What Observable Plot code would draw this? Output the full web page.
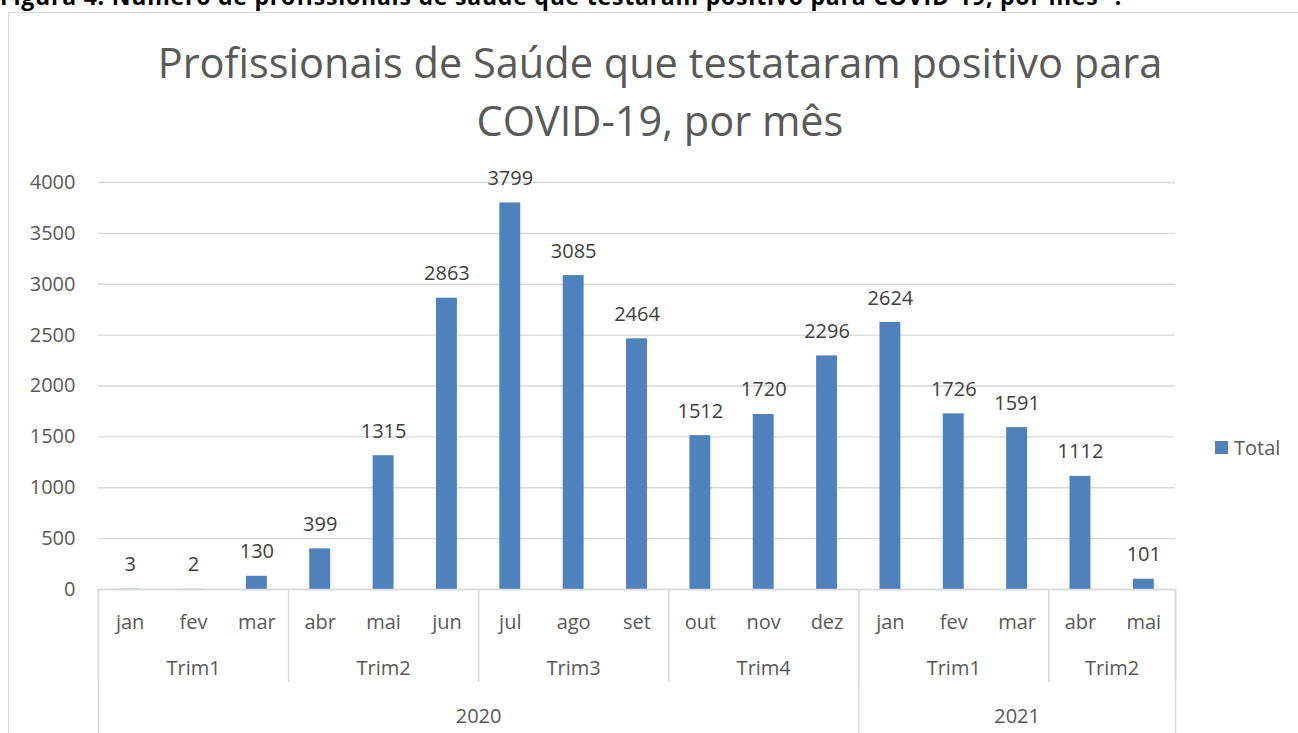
<!DOCTYPE html>
<html>
<head>
<meta charset="utf-8">
<script src="https://cdn.jsdelivr.net/npm/d3@7"></script>
<script src="https://cdn.jsdelivr.net/npm/@observablehq/plot@0.6"></script>
<style>
  html, body { margin: 0; padding: 0; background: #fff; }
  #wrap { position: relative; width: 1298px; height: 733px; overflow: hidden; font-family: "Open Sans", sans-serif; }
  #heading { position: absolute; left: 0; top: -18px; font-weight: bold; font-size: 23px; color: #000; white-space: nowrap; line-height: 28px; letter-spacing: 0.8px; }
  #frame { position: absolute; left: 8px; top: 12px; width: 1400px; height: 800px; border: 1px solid #d9d9d9; box-sizing: border-box; }
  #title { position: absolute; left: 0; width: 1320px; top: 33px; text-align: center; font-size: 41.5px; line-height: 58px; color: #595959; }
  #chart { position: absolute; left: 0; top: 0; }
  #legend { position: absolute; left: 1215px; top: 434px; font-size: 20px; color: #595959; display: flex; align-items: center; }
  #legend span.sw { display: inline-block; width: 13px; height: 13px; background: #4F81BD; margin-right: 6px; }
</style>
</head>
<body>
<div id="wrap">
  <div id="heading">Figura 4. Número de profissionais de saúde que testaram positivo para COVID-19, por mês ¹.</div>
  <div id="frame"></div>
  <div id="title">Profissionais de Saúde que testataram positivo para<br>COVID-19, por mês</div>
  <div id="chart"></div>
  <div id="legend"><span class="sw"></span>Total</div>
</div>
<script>
const months   = ["jan","fev","mar","abr","mai","jun","jul","ago","set","out","nov","dez","jan","fev","mar","abr","mai"];
const quarters = ["Trim1","Trim1","Trim1","Trim2","Trim2","Trim2","Trim3","Trim3","Trim3","Trim4","Trim4","Trim4","Trim1","Trim1","Trim1","Trim2","Trim2"];
const years    = ["2020","2020","2020","2020","2020","2020","2020","2020","2020","2020","2020","2020","2021","2021","2021","2021","2021"];
const totals   = [3, 2, 130, 399, 1315, 2863, 3799, 3085, 2464, 1512, 1720, 2296, 2624, 1726, 1591, 1112, 101];
const yTicks   = [0, 500, 1000, 1500, 2000, 2500, 3000, 3500, 4000];

const n = months.length;
const data = months.map((m, i) => ({i, month: m, quarter: quarters[i], year: years[i], value: totals[i]}));

// group runs of identical keys
function groups(keyFn, labelFn) {
  const out = [];
  data.forEach((d, i) => {
    const k = keyFn(d);
    if (out.length && out[out.length - 1].key === k) out[out.length - 1].end = i + 1;
    else out.push({key: k, label: labelFn(d), start: i, end: i + 1});
  });
  return out;
}
const qGroups = groups(d => d.year + "|" + d.quarter, d => d.quarter);
const yGroups = groups(d => d.year, d => d.year);

const qBounds = Array.from(new Set(qGroups.flatMap(g => [g.start, g.end])));
const yBounds = Array.from(new Set(yGroups.flatMap(g => [g.start, g.end])));
const qCenters = qGroups.map(g => (g.start + g.end) / 2);
const yCenters = yGroups.map(g => (g.start + g.end) / 2);
const mCenters = data.map(d => d.i + 0.5);

const grid = "#d9d9d9";
const txt = "#595959";
const fs = 20;

const chart = Plot.plot({
  width: 1298,
  height: 733,
  marginLeft: 98,
  marginRight: 123,
  marginTop: 182,
  marginBottom: 144,
  x: {type: "linear", domain: [0, n], label: null},
  y: {domain: [0, 4000], label: null},
  style: {fontFamily: "Open Sans, sans-serif", fontSize: fs + "px", color: txt, background: "transparent", overflow: "visible"},
  marks: [
    Plot.gridY(yTicks, {stroke: grid, strokeOpacity: 1, strokeWidth: 1.3}),
    Plot.axisY(yTicks, {tickSize: 0, tickPadding: 23, fill: txt, fontSize: fs, tickFormat: d => String(d)}),
    Plot.rectY(data, {x1: d => d.i + 0.335, x2: d => d.i + 0.665, y: "value", fill: "#4F81BD"}),
    Plot.text(data, {x: d => d.i + 0.5, y: "value", text: d => String(d.value), lineAnchor: "bottom", dy: -18, fill: "#404040", fontSize: fs}),
    Plot.ruleY([0], {stroke: grid, strokeWidth: 1.5}),
    Plot.axisX(qBounds, {tickSize: 93, tickFormat: () => "", stroke: grid, strokeWidth: 1.5, strokeOpacity: 1}),
    Plot.axisX(yBounds, {tickSize: 144, tickFormat: () => "", stroke: grid, strokeWidth: 1.5, strokeOpacity: 1}),
    Plot.axisX(mCenters, {tickSize: 0, tickPadding: 25, fill: txt, fontSize: fs, tickFormat: v => months[Math.floor(v)]}),
    Plot.axisX(qCenters, {tickSize: 0, tickPadding: 71, fill: txt, fontSize: fs, tickFormat: v => qGroups[qCenters.indexOf(v)].label}),
    Plot.axisX(yCenters, {tickSize: 0, tickPadding: 119, fill: txt, fontSize: fs, tickFormat: v => yGroups[yCenters.indexOf(v)].label})
  ]
});
document.getElementById("chart").appendChild(chart);
</script>
</body>
</html>
